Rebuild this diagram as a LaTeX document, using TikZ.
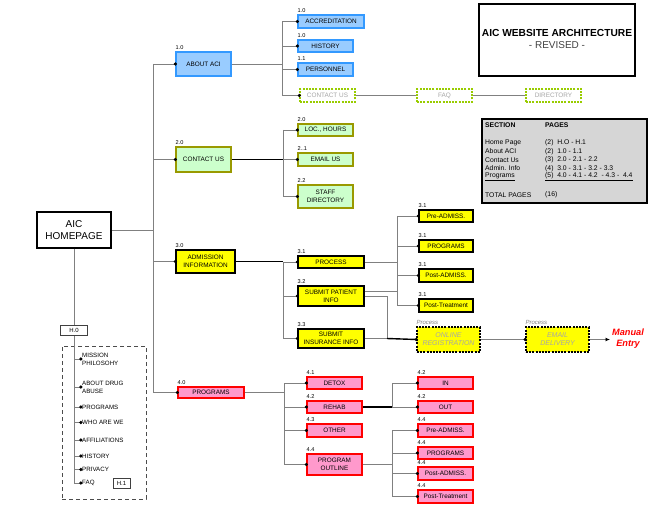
\documentclass[tikz,border=0pt]{standalone}
\usepackage{fontspec}
\setmainfont{Liberation Sans}
\usetikzlibrary{arrows.meta}
\definecolor{bluef}{HTML}{99CCFF}
\definecolor{blued}{HTML}{3399FF}
\definecolor{greenf}{HTML}{CCFFCC}
\definecolor{greend}{HTML}{999900}
\definecolor{pinkf}{HTML}{FF99CC}
\definecolor{yel}{HTML}{FFFF00}
\definecolor{limeg}{HTML}{99CC00}
\definecolor{conn}{HTML}{808080}
\definecolor{tablef}{HTML}{D6D6D6}
\definecolor{ghost}{HTML}{A6A6A6}
\newcommand\bxn[7]{%
  \node[#1,minimum width=#4pt,minimum height=#5pt] (#2) at (#3) {#6};
  \node[lbl] (#2-l) at ([yshift=1.5pt]#2.north west) {#7};}
\tikzset{
  bx/.style={draw, line width=1.1pt, inner sep=0pt, align=center, font=\fontsize{6.4}{8}\selectfont},
  abox/.style={bx, fill=bluef, draw=blued},
  cbox/.style={bx, fill=greenf, draw=greend},
  ybox/.style={bx, fill=yel, draw=black},
  pbox/.style={bx, fill=pinkf, draw=red},
  gbox/.style={bx, draw=limeg, line width=1.2pt, dash pattern=on 2pt off 1.2pt, fill=white, text=ghost},
  procbox/.style={bx, fill=yel, draw=black, line width=1.3pt, dash pattern=on 2pt off 1.2pt, text=ghost, font=\itshape\fontsize{7}{8}\selectfont},
  proclbl/.style={inner sep=0pt, anchor=south west, text=gray, font=\itshape\fontsize{6}{6}\selectfont},
  lbl/.style={inner sep=0pt, anchor=south west, font=\fontsize{5.6}{6}\selectfont},
  ln/.style={draw=conn, line width=0.9pt},
  thk/.style={draw=black, line width=1.4pt},
  dot/.style={-{Circle[length=3.2pt,color=black]}, shorten >=-1.5pt},
  hitem/.style={anchor=west, inner sep=1pt, align=left, font=\fontsize{6.2}{8}\selectfont},
  tabtxt/.style={anchor=west, inner sep=0pt, font=\fontsize{6.8}{8}\selectfont},
  smallbox/.style={draw=black!75, fill=white, line width=0.7pt, inner sep=0pt, font=\fontsize{6}{7}\selectfont},
}
\begin{document}
\begin{tikzpicture}[x=1pt,y=-1pt]
\useasboundingbox (0,0) rectangle (671,510);

% ---------- homepage ----------
\node[draw, line width=1.6pt, inner sep=0pt, minimum width=74pt, minimum height=36pt, align=center,
      font=\fontsize{10}{12.5}\selectfont] (hp) at (74,230) {AIC\\HOMEPAGE};

% ---------- title & table ----------
\node[draw, line width=1.3pt, minimum width=156pt, minimum height=72pt, inner sep=0pt] (title) at (557,40) {};
\node[inner sep=0pt, font=\bfseries\fontsize{10.2}{12}\selectfont] (title1) at (557,33) {AIC WEBSITE ARCHITECTURE};
\node[inner sep=0pt, text=black!75, font=\fontsize{10}{12}\selectfont] (title2) at (557,45.5) {- REVISED -};

\node[draw, line width=1.5pt, fill=tablef, minimum width=165pt, minimum height=84pt, inner sep=0pt] (tab) at (564.5,161) {};
\node[tabtxt, font=\bfseries\fontsize{6.8}{8}\selectfont] (ta0) at (485,125) {SECTION};
\node[tabtxt, font=\bfseries\fontsize{6.8}{8}\selectfont] (tb0) at (545,125) {PAGES};
\node[tabtxt] (ta1) at (485,143) {Home Page};
\node[tabtxt] (tb1) at (545,143) {(2) \ H.O - H.1};
\node[tabtxt] (ta2) at (485,151.5) {About ACI};
\node[tabtxt] (tb2) at (545,151.5) {(2) \ 1.0 - 1.1};
\node[tabtxt] (ta3) at (485,160) {Contact Us};
\node[tabtxt] (tb3) at (545,160) {(3) \ 2.0 - 2.1 - 2.2};
\node[tabtxt] (ta4) at (485,168.5) {Admin. Info};
\node[tabtxt] (tb4) at (545,168.5) {(4) \ 3.0 - 3.1 - 3.2 - 3.3};
\node[tabtxt] (ta5) at (485,177) {\underline{Programs}};
\node[tabtxt] (tb5) at (545,177) {\underline{(5) \ 4.0 - 4.1 - 4.2 \ - 4.3 - \ 4.4}};
\node[tabtxt] (ta6) at (485,195) {TOTAL PAGES};
\node[tabtxt] (tb6) at (545,195) {(16)};

% ---------- level 1 ----------
\bxn{abox}{about}{203.5,64}{55}{24}{ABOUT ACI}{1.0}
\bxn{cbox}{contact}{203.5,159.5}{55}{25}{CONTACT US}{2.0}
\bxn{ybox}{adm}{205.5,261.5}{59}{23}{ADMISSION\\INFORMATION}{3.0}
\bxn{pbox}{prog}{211,392.5}{66}{11}{PROGRAMS}{4.0}

% ---------- about ----------
\bxn{abox}{accr}{331,21.5}{66}{13}{ACCREDITATION}{1.0}
\bxn{abox}{hist}{325.5,46}{55}{12}{HISTORY}{1.0}
\bxn{abox}{pers}{325.5,69.5}{55}{13}{PERSONNEL}{1.1}
\node[gbox, minimum width=55pt, minimum height=13pt] (cus) at (327.5,95.5) {CONTACT US};
\node[gbox, minimum width=55pt, minimum height=13pt] (faq) at (444.5,95.5) {FAQ};
\node[gbox, minimum width=55pt, minimum height=13pt] (dir) at (553.5,95.5) {DIRECTORY};

% ---------- contact ----------
\bxn{cbox}{loc}{325.5,130}{55}{12}{LOC., HOURS}{2.0}
\bxn{cbox}{email}{325.5,159.5}{55}{13}{EMAIL US}{2..1}
\bxn{cbox}{staff}{325.5,196.5}{55}{23}{STAFF\\DIRECTORY}{2.2}

% ---------- admission ----------
\bxn{ybox}{process}{331,262}{66}{12}{PROCESS}{3.1}
\bxn{ybox}{spi}{331,296}{66}{20}{SUBMIT PATIENT\\INFO}{3.2}
\bxn{ybox}{sii}{331,338.5}{66}{19}{SUBMIT\\INSURANCE INFO}{3.3}
\bxn{ybox}{preA}{446,216}{54}{12}{Pre-ADMISS.}{3.1}
\bxn{ybox}{progA}{446,246}{54}{12}{PROGRAMS}{3.1}
\bxn{ybox}{postA}{446,275.5}{54}{13}{Post-ADMISS.}{3.1}
\bxn{ybox}{postT}{446,305.5}{54}{13}{Post-Treatment}{3.1}
\node[procbox, minimum width=63pt, minimum height=25pt] (online) at (448.5,339.5) {ONLINE\\REGISTRATION};
\node[proclbl] (online-l) at ([yshift=1.5pt]online.north west) {Process};
\node[procbox, minimum width=63pt, minimum height=25pt] (emaild) at (557.5,339.5) {EMAIL\\DELIVERY};
\node[proclbl] (emaild-l) at ([yshift=1.5pt]emaild.north west) {Process};
\node[text=red, align=center, inner sep=0pt, font=\bfseries\itshape\fontsize{9.2}{11}\selectfont] (manual) at (628,338.5) {Manual\\Entry};
\coordinate (mtip) at (610,339.5);

% ---------- programs ----------
\bxn{pbox}{detox}{334.5,383}{55}{12}{DETOX}{4.1}
\bxn{pbox}{rehab}{334.5,407}{55}{12}{REHAB}{4.2}
\bxn{pbox}{other}{334.5,430.5}{55}{13}{OTHER}{4.3}
\bxn{pbox}{pout}{334.5,464.5}{55}{21}{PROGRAM\\OUTLINE}{4.4}
\bxn{pbox}{inn}{445.5,383}{55}{12}{IN}{4.2}
\bxn{pbox}{out}{445.5,407}{55}{12}{OUT}{4.2}
\bxn{pbox}{preB}{445.5,430.5}{55}{13}{Pre-ADMISS.}{4.4}
\bxn{pbox}{progB}{445.5,453}{55}{12}{PROGRAMS}{4.4}
\bxn{pbox}{postB}{445.5,473.5}{55}{13}{Post-ADMISS.}{4.4}
\bxn{pbox}{postTB}{445.5,496.5}{55}{13}{Post-Treatment}{4.4}

% ---------- homepage list ----------
\node[draw=black!70, dash pattern=on 4pt off 3pt, line width=0.8pt, minimum width=84pt, minimum height=153pt, inner sep=0pt] (hframe) at (104,422.5) {};
\node[hitem] (i1) at (81,359) {MISSION\\PHILOSOHY};
\node[hitem] (i2) at (81,387) {ABOUT DRUG\\ABUSE};
\node[hitem] (i3) at (81,407) {PROGRAMS};
\node[hitem] (i4) at (81,422.5) {WHO ARE WE};
\node[hitem] (i5) at (81,440) {AFFILIATIONS};
\node[hitem] (i6) at (81,456) {HISTORY};
\node[hitem] (i7) at (81,469.5) {PRIVACY};
\node[hitem] (i8) at (81,483) {FAQ};
\coordinate (hl) at (74,483);
\draw[draw=conn, line width=1pt] (74,249) -- (74,483.4);
\draw[ln,dot] (74,359) -- (i1.west);
\draw[ln,dot] (74,387) -- (i2.west);
\draw[ln,dot] (74,407) -- (i3.west);
\draw[ln,dot] (74,422.5) -- (i4.west);
\draw[ln,dot] (74,440) -- (i5.west);
\draw[ln,dot] (74,456) -- (i6.west);
\draw[ln,dot] (74,469.5) -- (i7.west);
\draw[ln,dot] (hl) -- (i8.west);
\node[smallbox, minimum width=27pt, minimum height=10pt] (h0) at (74,330) {H.0};
\node[smallbox, minimum width=17pt, minimum height=10pt] (h1) at (121.5,483) {H.1};

% ---------- connectors: trunk ----------
\coordinate (tr) at (153,64);
\draw[ln] (hp.east) -- (hp.east -| tr);
\draw[ln] (about.west -| tr) -- (prog.west -| tr);
\draw[ln,dot] (about.west -| tr) -- (about.west);
\draw[ln,dot] (contact.west -| tr) -- (contact.west);
\draw[ln,dot] (adm.west -| tr) -- (adm.west);
\draw[ln,dot] (prog.west -| tr) -- (prog.west);

% about branch
\coordinate (ja) at (282,64);
\draw[ln] (about.east) -- (ja);
\draw[ln] (accr.west -| ja) -- (cus.west -| ja);
\foreach \n in {accr,hist,pers,cus} { \draw[ln,dot] (\n.west -| ja) -- (\n.west); }
\draw[ln] (cus.east) -- (faq.west);
\draw[ln] (faq.east) -- (dir.west);

% contact branch
\coordinate (jc) at (283,159.5);
\draw[thk] (contact.east) -- (jc);
\draw[ln] (loc.west -| jc) -- (staff.west -| jc);
\foreach \n in {loc,email,staff} { \draw[ln,dot] (\n.west -| jc) -- (\n.west); }

% admission branch
\coordinate (jd) at (283,261.5);
\draw[thk] (adm.east) -- (jd);
\draw[ln] (process.west -| jd) -- (sii.west -| jd);
\foreach \n in {process,spi,sii} { \draw[ln,dot] (\n.west -| jd) -- (\n.west); }
\coordinate (je) at (397,216);
\draw[ln] (preA.west -| je) -- (postT.west -| je);
\foreach \n in {preA,progA,postA,postT} { \draw[ln,dot] (\n.west -| je) -- (\n.west); }
\draw[ln] (process.east) -- (process.east -| je);
\coordinate (spiA) at ([yshift=5pt]spi.east);
\draw[ln] (spiA) -- (spiA -| je);
\coordinate (jf) at (387,338.5);
\draw[ln] (spi.east) -- (spi.east -| jf) -- (jf);
\draw[ln] (sii.east) -- (jf);
\draw[thk,dot] (jf) -- (online.west);
\draw[ln,dot] (online.east) -- (emaild.west);
\draw[ln,-{Latex[length=4.5pt,width=4pt,color=black]}] (emaild.east) -- (mtip);

% programs branch
\coordinate (jp) at (284,392.5);
\draw[ln] (prog.east) -- (jp);
\draw[ln] (detox.west -| jp) -- (pout.west -| jp);
\foreach \n in {detox,rehab,other,pout} { \draw[ln,dot] (\n.west -| jp) -- (\n.west); }
\coordinate (jq) at (392,407);
\draw[thk] (rehab.east) -- (jq);
\draw[ln] (inn.west -| jq) -- (out.west -| jq);
\foreach \n in {inn,out} { \draw[ln,dot] (\n.west -| jq) -- (\n.west); }
\draw[ln] (pout.east) -- (pout.east -| jq);
\draw[ln] (preB.west -| jq) -- (postTB.west -| jq);
\foreach \n in {preB,progB,postB,postTB} { \draw[ln,dot] (\n.west -| jq) -- (\n.west); }
\end{tikzpicture}
\end{document}
